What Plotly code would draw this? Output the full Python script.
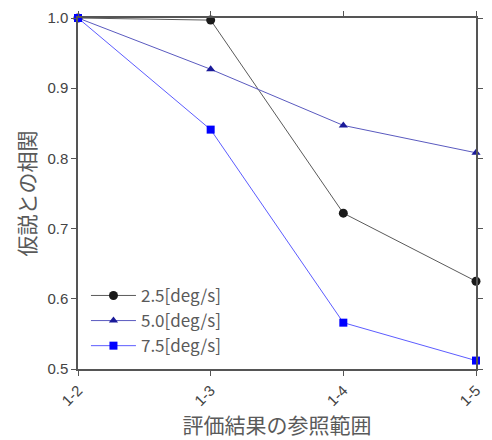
import plotly.graph_objects as go

categories = ["1-2", "1-3", "1-4", "1-5"]
series_names = ["2.5[deg/s]", "5.0[deg/s]", "7.5[deg/s]"]
values_25 = [1.0, 0.997, 0.722, 0.625]
values_50 = [1.0, 0.927, 0.847, 0.808]
values_75 = [1.0, 0.841, 0.566, 0.512]
y_ticks = [0.5, 0.6, 0.7, 0.8, 0.9, 1.0]

styles = [
    dict(line="#5a5a5a", marker="#1a1a1a", symbol="circle", size=9),
    dict(line="#5a5abf", marker="#1a1a99", symbol="triangle-up", size=8),
    dict(line="#5c5cff", marker="#0000ff", symbol="square", size=8),
]

fig = go.Figure()
for name, vals, st in zip(series_names, [values_25, values_50, values_75], styles):
    fig.add_trace(go.Scatter(
        x=categories, y=vals, name=name, mode="lines+markers",
        line=dict(color=st["line"], width=1),
        marker=dict(color=st["marker"], symbol=st["symbol"], size=st["size"]),
        cliponaxis=False,
    ))

axis_common = dict(
    showline=True, linecolor="#555555", linewidth=1.5, mirror="ticks",
    ticks="outside", tickcolor="#555555", ticklen=5, tickwidth=1,
    showgrid=False, zeroline=False, automargin=False,
    tickfont=dict(family="Liberation Sans, Arial, sans-serif", size=15, color="#444444"),
)

fig.update_layout(
    width=492, height=440,
    margin=dict(l=78, r=16, t=18, b=71),
    paper_bgcolor="white", plot_bgcolor="white",
    xaxis=dict(type="category", range=[0, 3], tickangle=-45, **axis_common,
               title=dict(text="評価結果の参照範囲", standoff=2,
                          font=dict(family="Noto Sans CJK JP", size=21, color="#5a5a5a"))),
    yaxis=dict(range=[0.5, 1.0], tickvals=y_ticks, tickformat=".1f", **axis_common,
               title=dict(text="仮説との相関", standoff=6,
                          font=dict(family="Noto Sans CJK JP", size=21, color="#5a5a5a"))),
    legend=dict(x=0.02, y=0.137, xanchor="left", yanchor="middle", itemwidth=45,
                bgcolor="rgba(0,0,0,0)", tracegroupgap=0,
                font=dict(family="Noto Sans CJK JP", size=17, color="#5a5a5a")),
)

fig.write_html("out.html", config={"displayModeBar": False},
               post_script="document.body.style.margin='0';")
